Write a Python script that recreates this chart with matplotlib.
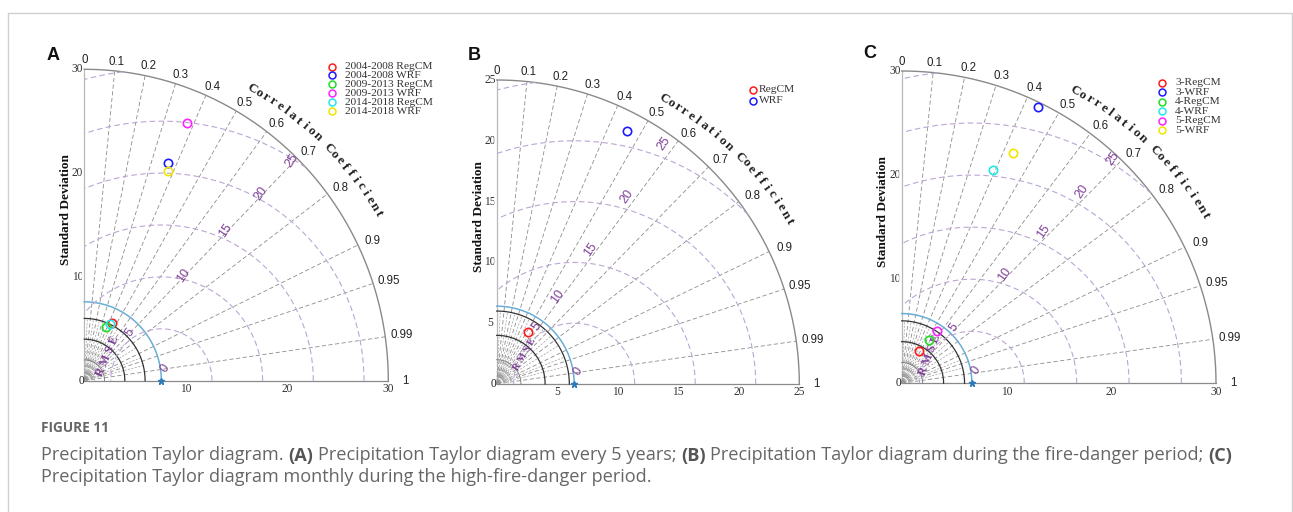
import numpy as np
import matplotlib.pyplot as plt
from matplotlib.patches import Wedge

W, H = 1293, 512

# ---- values ----
# (A) every 5 years
a_names = ['2004-2008 RegCM', '2004-2008 WRF', '2009-2013 RegCM',
           '2009-2013 WRF', '2014-2018 RegCM', '2014-2018 WRF']
a_std = [6.15, 22.5, 5.56, 26.8, 6.02, 21.8]
a_corr = [0.44, 0.366, 0.38, 0.377, 0.42, 0.377]
a_ref = 7.6
a_colors = ['#ff1a1a', '#1a1aff', '#22dd22', '#ff22ff', '#22e8e8', '#f2e600']

# (B) fire-danger period
b_names = ['RegCM', 'WRF']
b_std = [4.99, 23.4]
b_corr = [0.52, 0.461]
b_ref = 6.4
b_colors = ['#ff1a1a', '#1a1aff']

# (C) monthly, high-fire-danger period
c_names = ['3-RegCM', '3-WRF', '4-RegCM', '4-WRF', '5-RegCM', '5-WRF']
c_std = [3.53, 29.6, 4.93, 22.3, 6.07, 24.5]
c_corr = [0.476, 0.441, 0.535, 0.391, 0.56, 0.432]
c_ref = 6.7
c_colors = ['#ff1a1a', '#1a1aff', '#22dd22', '#22e8e8', '#ff22ff', '#f2e600']

corr_ticks = [0, 0.1, 0.2, 0.3, 0.4, 0.5, 0.6, 0.7, 0.8, 0.9, 0.95, 0.99, 1]
corr_minor = [0.05, 0.15, 0.25, 0.35, 0.45, 0.55, 0.65, 0.75, 0.85, 0.93, 0.97]
a_std_ticks = [10, 20, 30]
b_std_ticks = [5, 10, 15, 20, 25]
c_std_ticks = [10, 20, 30]
a_rms = [5, 10, 15, 20, 25, 30]
b_rms = [5, 10, 15, 20, 25, 30]
c_rms = [5, 10, 15, 20, 25, 30]

SERIF = 'Liberation Serif'
SANS = 'Liberation Sans'
PURPLE = '#7f3f98'

fig = plt.figure(figsize=(W / 100, H / 100), dpi=100)
fig.patch.set_facecolor('white')

# overlay axes in pixel units (y down) for frame, letters, legends, caption
ov = fig.add_axes([0, 0, 1, 1])
ov.set_xlim(0, W)
ov.set_ylim(H, 0)
ov.axis('off')
ov.set_facecolor('none')


def taylor(box, rmax, ref, std, corr, cols, std_ticks, rms, ray, rms_t, rmse_box):
    ox, oy, rx, ty = box
    ax = fig.add_axes([ox / W, 1 - oy / H, (rx - ox) / W, (oy - ty) / H])
    ax.set_xlim(0, rmax)
    ax.set_ylim(0, rmax)
    ax.axis('off')
    th = np.linspace(0, np.pi / 2, 300)

    # white quarter disc that hides half of the left tick labels
    ax.add_patch(Wedge((-0.008 * rmax, 0), rmax, 0, 90, fc='white', ec='none',
                       zorder=0.5, clip_on=False))

    # std tick labels
    for s in std_ticks:
        ax.text(s, -0.008 * rmax, str(s), ha='center', va='top', fontsize=8.3,
                family=SERIF, color='#333333', zorder=3)
        ax.text(-0.022 * rmax, s, str(s), ha='center', va='center', fontsize=8.3,
                family=SERIF, color='#333333', zorder=3 if s == rmax else 0.3)
    ax.text(0, 0, '0', ha='right', va='center', fontsize=8.3, family=SERIF,
            color='#222222', zorder=4)

    # axes and outer arc
    ax.plot([0, 0], [0, rmax], color='#b8b8b8', lw=0.9, clip_on=False)
    ax.plot([0, rmax], [0, 0], color='#8a8a8a', lw=0.9, clip_on=False)
    ax.plot(rmax * np.cos(th), rmax * np.sin(th), color='#8a8a8a', lw=1.0, clip_on=False)

    # correlation rays
    for c in corr_ticks[1:-1]:
        a = np.arccos(c)
        ax.plot([0, rmax * np.cos(a)], [0, rmax * np.sin(a)], color='#8c8c8c',
                lw=0.6, ls=(0, (5, 3)), clip_on=False)
    for c in corr_minor:
        a = np.arccos(c)
        ax.plot([0, 6 * np.cos(a)], [0, 6 * np.sin(a)], color='#a0a0a0',
                lw=0.5, ls=(0, (3, 2)), clip_on=False)
    for c in corr_ticks:
        a = np.arccos(c)
        ax.text(1.055 * rmax * np.cos(a), 1.03 * rmax * np.sin(a), str(c),
                ha='center', va='center', fontsize=8.3, family=SANS, color='#222222')

    # curved axis title
    title = 'Correlation Coefficient'
    n = len(title) - 1
    for i, ch in enumerate(title):
        ang = np.deg2rad(59.5 - 1.386 * i)
        rr = rmax * (1.087 + 0.018 * i / n)
        ax.text(rr * np.cos(ang), rr * np.sin(ang), ch,
                rotation=np.rad2deg(ang) - 90, rotation_mode='anchor',
                ha='center', va='center', fontsize=9.5, family=SERIF,
                weight='bold', color='#222222')

    ax.text(-0.06 * rmax, 0.55 * rmax, 'Standard Deviation', rotation=90,
            ha='center', va='center', fontsize=9.5, family=SERIF,
            weight='bold', color='#111111')

    # small std circles near the origin
    for s, col, lw in [(1, '#b8b8b8', 0.5), (2, '#808080', 0.7),
                       (4, '#333333', 0.9), (6, '#333333', 0.9)]:
        ax.plot(s * np.cos(th), s * np.sin(th), color=col, lw=lw, clip_on=False)

    # reference std arc
    ax.plot(ref * np.cos(th), ref * np.sin(th), color='#6aaed6', lw=1.1, clip_on=False)

    # centred RMS difference arcs
    ph = np.linspace(0, np.pi, 600)
    for r in rms:
        x = ref + r * np.cos(ph)
        y = r * np.sin(ph)
        bad = (x < 0) | (x ** 2 + y ** 2 > rmax ** 2)
        x[bad] = np.nan
        y[bad] = np.nan
        ax.plot(x, y, color='#bba6d3', lw=0.8, ls=(0, (5, 3)), clip_on=False)
    ra = np.deg2rad(ray)
    ax.text(ref + 0.35, 0.04 * rmax, '0', rotation=55, ha='center', va='center',
            fontsize=9, family=SANS, color=PURPLE)
    for r, t in zip(rms[:-1], rms_t):
        ax.text(t * np.cos(ra), t * np.sin(ra), str(r), rotation=55,
                ha='center', va='center', fontsize=9, family=SANS, color=PURPLE)
    rx_, ry_, rrot, rfs = rmse_box
    ax.text(rx_, ry_, 'R M S E', rotation=rrot, ha='center', va='center',
            fontsize=rfs, family=SERIF, weight='bold', color=PURPLE)

    # reference point
    ax.plot([ref], [0], marker='*', color='#2b7bba', ms=5, clip_on=False, zorder=5)

    # models
    for s, c, col in zip(std, corr, cols):
        a = np.arccos(c)
        ax.plot([s * np.cos(a)], [s * np.sin(a)], 'o', mfc='none', mec=col,
                mew=1.2, ms=6, clip_on=False, zorder=5)
    return ax


taylor((84.3, 380.7, 388.3, 69.3), 30, a_ref, a_std, a_corr, a_colors, a_std_ticks,
       a_rms, 46, [6.5, 14.1, 20.1, 25.1, 29.5], (2.34, 2.38, 67, 8.5))
taylor((496.7, 384.0, 799.3, 80.0), 25, b_ref, b_std, b_corr, b_colors, b_std_ticks,
       b_rms, 55, [5.8, 8.8, 13.5, 18.8, 24.1], (2.34, 2.47, 60, 7))
taylor((901.7, 383.3, 1216.0, 71.0), 30, c_ref, c_std, c_corr, c_colors, c_std_ticks,
       c_rms, 47, [7.3, 14.35, 19.9, 25.2, 29.5], (2.7, 2.7, 69, 8.5))


# legends
def legend(names, cols, mx, tx, y0, dy):
    for i, (n, col) in enumerate(zip(names, cols)):
        ov.plot([mx], [y0 + i * dy], 'o', mfc='none', mec=col, mew=1.1, ms=5)
        ov.text(tx, y0 + i * dy, n, va='center', ha='left', fontsize=8.2,
                family=SERIF, color='#333333')


legend(a_names, a_colors, 331.5, 345, 66.5, 8.9)
legend(b_names, b_colors, 752.5, 758.5, 90, 10.5)
legend(c_names, c_colors, 1161.7, 1175, 82.7, 9.5)

# panel letters
for L, x, y in [('A', 53, 56), ('B', 474, 55), ('C', 870, 53.5)]:
    ov.text(x, y, L, ha='center', va='center', fontsize=13, weight='bold',
            family=SANS, color='#111111')

# frame
ov.plot([7.5, 7.5, 1291.5, 1291.5], [512, 12.7, 12.7, 512], color='#d0d0d0', lw=1)

# caption
ov.text(40.7, 428.5, 'FIGURE 11', va='center', ha='left', fontsize=9.8,
        weight='bold', family='Open Sans', color='#666666')

fig.canvas.draw()
rend = fig.canvas.get_renderer()
cap_col = '#666666'
line1 = [('Precipitation Taylor diagram.', 'normal'), ('(A)', 'bold'),
         ('Precipitation Taylor diagram every 5 years;', 'normal'), ('(B)', 'bold'),
         ('Precipitation Taylor diagram during the fire-danger period;', 'normal'),
         ('(C)', 'bold')]


def tw(s, fs, weight='normal'):
    t = ov.text(0, 0, s, fontsize=fs, family='Open Sans', weight=weight)
    w = t.get_window_extent(rend).width
    t.remove()
    return w


def line_width(fs):
    sp = tw('a a', fs) - tw('aa', fs)
    return sum(tw(s, fs, w) for s, w in line1) + sp * (len(line1) - 1), sp


# scale the caption so that the first line spans the same width as the reference
w0, _ = line_width(11)
cap_fs = 11 * (1233 - 40.7) / w0
_, space = line_width(cap_fs)

x = 40.7
for s, w in line1:
    t = ov.text(x, 460.5, s, fontsize=cap_fs, family='Open Sans', weight=w,
                color=cap_col if w == 'normal' else '#555555', va='baseline', ha='left')
    x += t.get_window_extent(rend).width + space
ov.text(40.7, 482, 'Precipitation Taylor diagram monthly during the high-fire-danger period.',
        fontsize=cap_fs, family='Open Sans', color=cap_col, va='baseline', ha='left')

fig.savefig('out.png', dpi=100, facecolor='white')
